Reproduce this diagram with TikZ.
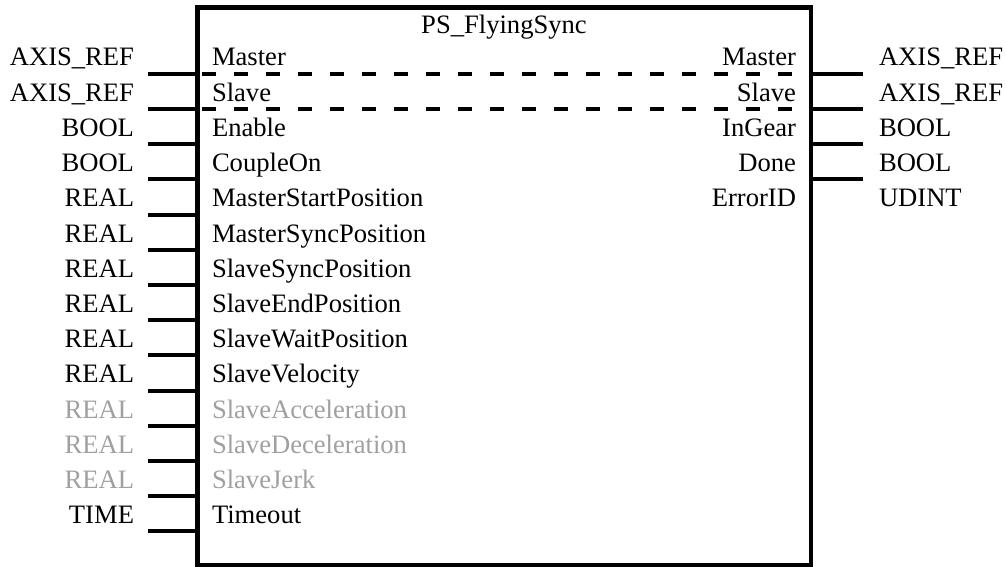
\documentclass[tikz,border=0pt]{standalone}
\usepackage{fontspec}
\setmainfont{Liberation Serif}
\begin{document}
\begin{tikzpicture}[x=1pt,y=-1pt,
  every node/.style={inner sep=0pt,outer sep=0pt,font=\fontsize{26.6}{30}\selectfont},
  fbox/.style={draw,line width=4.5pt,minimum width=613.5pt,minimum height=557.5pt},
  pin/.style={line width=4pt},
  ref/.style={line width=4pt,dash pattern=on 13.5pt off 18.5pt},
  typeL/.style={anchor=base east},
  typeR/.style={anchor=base west},
  nameL/.style={anchor=base west},
  nameR/.style={anchor=base east},
  opt/.style={text=optgray}]
\definecolor{optgray}{RGB}{160,160,160}
\useasboundingbox (0,0) rectangle (1006,567);

% function block
\node[fbox] (fb) at (504.25,286.25) {};
\node[anchor=base] (title) at (504,34) {PS\_FlyingSync};

% inputs: type, pin name, style
\foreach \t/\n/\s [count=\k from 0] in {
  AXIS\_REF/Master/, AXIS\_REF/Slave/, BOOL/Enable/, BOOL/CoupleOn/,
  REAL/MasterStartPosition/, REAL/MasterSyncPosition/, REAL/SlaveSyncPosition/,
  REAL/SlaveEndPosition/, REAL/SlaveWaitPosition/, REAL/SlaveVelocity/,
  REAL/SlaveAcceleration/opt, REAL/SlaveDeceleration/opt, REAL/SlaveJerk/opt,
  TIME/Timeout/}{
  \pgfmathsetmacro\yl{73.8+35.2*\k}
  \pgfmathsetmacro\yb{66+35.2*\k}
  \node[typeL,\s] (itype\k) at (134,\yb) {\t};
  \node[nameL,\s] (iname\k) at (212,\yb) {\n};
  \coordinate (iend\k) at (148,\yl);
  \draw[pin] (iend\k) -- (iend\k -| fb.west);
}

% outputs: pin name, type
\foreach \n/\t [count=\k from 0] in {
  Master/AXIS\_REF, Slave/AXIS\_REF, InGear/BOOL, Done/BOOL, ErrorID/UDINT}{
  \pgfmathsetmacro\yb{66+35.2*\k}
  \node[nameR] (oname\k) at (796,\yb) {\n};
  \node[typeR] (otype\k) at (879,\yb) {\t};
}
\foreach \k in {0,...,3}{
  \pgfmathsetmacro\yl{73.8+35.2*\k}
  \coordinate (oend\k) at (863,\yl);
  \draw[pin] (oend\k -| fb.east) -- (oend\k);
}

% pass-through references Master and Slave
\foreach \k in {0,1}{
  \coordinate (ps\k) at ([xshift=4.7pt]iend\k -| fb.west);
  \coordinate (pe\k) at ([xshift=-2pt]oend\k -| fb.east);
  \draw[ref] (ps\k) -- (pe\k);
}
\end{tikzpicture}
\end{document}
